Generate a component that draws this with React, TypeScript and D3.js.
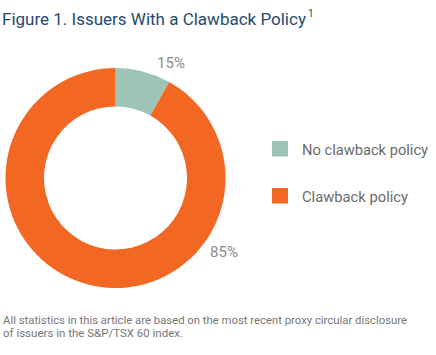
import React from "react";
import * as d3 from "d3";

const categories = ["No clawback policy", "Clawback policy"];
// slice sizes as drawn in the picture
const sliceValues = [8.1, 91.9];
// labels as printed
const sliceLabels = ["15%", "85%"];
const colors = ["#9cc5b8", "#f26722"];
const title = "Figure 1. Issuers With a Clawback Policy";
const titleNote = "1";
const footnote = [
  "All statistics in this article are based on the most recent proxy circular disclosure",
  "of issuers in the S&P/TSX 60 index.",
];

const W = 436;
const H = 355;
const FONT = "Roboto, 'Open Sans', sans-serif";

export default function App() {
  const cx = 115.5;
  const cy = 178;
  const pie = d3.pie<number>().sort(null).value((d) => d);
  const arcs = pie(sliceValues);
  const arc = d3.arc<d3.PieArcDatum<number>>().innerRadius(71.5).outerRadius(110);
  const labelPos = [
    { x: 171, y: 68, anchor: "middle" },
    { x: 224, y: 257, anchor: "middle" },
  ];
  const legendLen = [126, 106];
  const footLen = [404, 180];
  return (
    <svg
      width={W}
      height={H}
      style={{ position: "absolute", left: 0, top: 0, background: "#fff" }}
      fontFamily={FONT}
    >
      <text x={2} y={25} fontSize={17} fill="#1f4a70">
        {title}
        <tspan dx={2} dy={-8} fontSize={10}>{titleNote}</tspan>
      </text>
      <g transform={`translate(${cx},${cy})`}>
        {arcs.map((a, i) => (
          <path key={i} d={arc(a) || ""} fill={colors[i]} />
        ))}
      </g>
      {sliceLabels.map((l, i) => (
        <text key={l} x={labelPos[i].x} y={labelPos[i].y} fontSize={15} fill="#8a8a8a" textAnchor={labelPos[i].anchor as any}>
          {l}
        </text>
      ))}
      {categories.map((c, i) => (
        <g key={c} transform={`translate(272,${141 + i * 47})`}>
          <rect width={16} height={15.5} fill={colors[i]} />
          <text x={30} y={14} fontSize={15} fill="#6a6a6a" textLength={legendLen[i]} lengthAdjust="spacingAndGlyphs">{c}</text>
        </g>
      ))}
      {footnote.map((t, i) => (
        <text key={i} x={3} y={323.5 + i * 13.5} fontSize={11} fill="#777" textLength={footLen[i]} lengthAdjust="spacingAndGlyphs">
          {t}
        </text>
      ))}
    </svg>
  );
}
